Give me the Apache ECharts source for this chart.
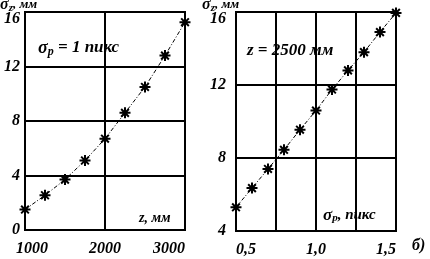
<!DOCTYPE html>
<html><head><meta charset="utf-8">
<script src="https://cdn.jsdelivr.net/npm/echarts@6/dist/echarts.min.js"></script>
<style>html,body{margin:0;padding:0;background:#fff}#c{width:430px;height:259px}</style>
</head><body><div id="c"></div>
<script>
// Left panel: sigma_p = 1 pixel
const zValues = [1000, 1250, 1500, 1750, 2000, 2250, 2500, 2750, 3000];
const sigmaZLeft = [1.5, 2.55, 3.7, 5.1, 6.7, 8.6, 10.5, 12.8, 15.25];
// Right panel: z = 2500 mm
const sigmaPValues = [0.5, 0.6, 0.7, 0.8, 0.9, 1.0, 1.1, 1.2, 1.3, 1.4, 1.5];
const sigmaZRight = [5.3, 6.35, 7.4, 8.45, 9.55, 10.6, 11.75, 12.8, 13.8, 14.9, 15.95];
const leftYTicks = [0, 4, 8, 12, 16];
const rightYTicks = [4, 8, 12, 16];
const leftXTicks = [1000, 2000, 3000];
const rightXTicks = ['0,5', '1,0', '1,5'];

const FONT = 'Liberation Serif';
const W = 'bold';
const star = 'path://M0,-10L0,10M-10,0L10,0M-7,-7L7,7M-7,7L7,-7';

function pairs(xs, ys){ return xs.map((x,i)=>[x, ys[i]]); }

const chart = echarts.init(document.getElementById('c'), null, {renderer:'canvas'});
const axisLabelStyle = {fontFamily: FONT, fontStyle:'italic', fontWeight:W, fontSize:16, color:'#000'};
const splitLine = {show:true, lineStyle:{color:'#000', width:2}};
const gridBase = {show:true, borderColor:'#000', borderWidth:2, backgroundColor:'transparent'};
const yRich = {t:Object.assign({padding:[14,0,0,0]}, axisLabelStyle)};

const lineSeries = (idx, data) => ({
  type:'line', xAxisIndex:idx, yAxisIndex:idx, data,
  symbol: star, symbolSize: 11,
  itemStyle:{color:'rgba(0,0,0,0)', borderColor:'#000', borderWidth:2},
  lineStyle:{color:'#000', width:1, type:[4,2,1,2]},
  z:5, silent:true, animation:false
});

function txt(s, size, extra){ return Object.assign({fontFamily:FONT, fontStyle:'italic', fontWeight:W, fontSize:size, fill:'#000', text:s}, extra||{}); }
const sub = (size, pad) => ({fontFamily:FONT, fontStyle:'italic', fontWeight:W, fontSize:size, padding:[pad,0,0,0], fill:'#000'});
const norm = (size) => ({fontFamily:FONT, fontStyle:'italic', fontWeight:W, fontSize:size, fill:'#000'});

chart.setOption({
  animation:false,
  grid:[
    Object.assign({left:25, top:12, width:160, height:218}, gridBase),
    Object.assign({left:236, top:12, width:160, height:219}, gridBase)
  ],
  xAxis:[
    {type:'value', gridIndex:0, min:1000, max:3000, interval:1000,
     axisLine:{show:false}, axisTick:{show:false}, splitLine,
     axisLabel:Object.assign({margin:11, alignMaxLabel:'right',
       formatter:v=> leftXTicks.includes(v) ? (v===1000 ? '{a|'+v+'}' : String(v)) : '',
       rich:{a:Object.assign({padding:[0,0,0,14]}, axisLabelStyle)}}, axisLabelStyle)},
    {type:'value', gridIndex:1, min:0.5, max:1.5, interval:0.25,
     axisLine:{show:false}, axisTick:{show:false}, splitLine,
     axisLabel:Object.assign({margin:11, alignMinLabel:'left', alignMaxLabel:'right',
       formatter:v=>{ const s=v.toFixed(1).replace('.',','); return rightXTicks.includes(s) && Math.abs(v*2-Math.round(v*2))<1e-9 ? s : ''; }}, axisLabelStyle)}
  ],
  yAxis:[
    {type:'value', gridIndex:0, min:0, max:16, interval:4,
     axisLine:{show:false}, axisTick:{show:false}, splitLine,
     axisLabel:Object.assign({margin:5, rich:yRich, formatter:v=> leftYTicks.includes(v)? (v===16?'{t|16}':String(v)):''}, axisLabelStyle)},
    {type:'value', gridIndex:1, min:4, max:16, interval:4,
     axisLine:{show:false}, axisTick:{show:false}, splitLine,
     axisLabel:Object.assign({margin:10, rich:yRich, formatter:v=> rightYTicks.includes(v)? (v===16?'{t|16}':String(v)):''}, axisLabelStyle)}
  ],
  series:[
    lineSeries(0, pairs(zValues, sigmaZLeft)),
    lineSeries(1, pairs(sigmaPValues, sigmaZRight))
  ],
  graphic:[
    {type:'text', left:0, top:-3, style:txt('{g|σ}{s|z}{n|, мм}', 15, {rich:{g:norm(16), s:sub(11,6), n:norm(13)}})},
    {type:'text', left:202, top:-3, style:txt('{g|σ}{s|z}{n|, мм}', 15, {rich:{g:norm(16), s:sub(11,6), n:norm(13)}})},
    {type:'text', left:38, top:39, style:txt('{g|σ}{s|p}{n| = 1 пикс}', 17, {rich:{g:norm(18), s:sub(12,7), n:norm(17)}})},
    {type:'text', left:247, top:42, style:txt('z = 2500 мм', 17)},
    {type:'text', left:139, top:211, style:txt('z, мм', 14)},
    {type:'text', left:323, top:207, style:txt('{g|σ}{s|p}{n|, пикс}', 16, {rich:{g:norm(17), s:sub(11,6), n:norm(15)}})},
    {type:'text', left:412, top:238, style:txt('б)', 16)}
  ]
});
</script></body></html>
